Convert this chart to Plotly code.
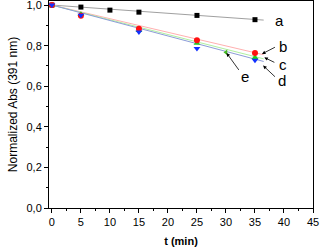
import plotly.graph_objects as go

# Data
t_a = [0, 5, 10, 15, 25, 35]
abs_a = [1.0, 0.99, 0.975, 0.965, 0.949, 0.928]

t_bcd = [0, 5, 15, 25, 35]
abs_b = [1.0, 0.947, 0.883, 0.826, 0.764]
abs_c = [1.0, 0.955, 0.875, 0.812, 0.742]
abs_d = [1.0, 0.950, 0.867, 0.786, 0.728]

t_e = [30]
abs_e = [0.767]

# Linear fits (endpoints)
t_fit = [0, 36.5]
fit_a = [1.0, 0.926]
fit_b = [1.0, 0.755]
fit_c = [1.0, 0.735]
fit_d = [1.0, 0.722]

labels = ["a", "b", "c", "d", "e"]
label_t = [39.3, 39.8, 39.8, 39.7, 33.3]
label_v = [0.924, 0.796, 0.706, 0.626, 0.648]

arrow_tail_t = [None, 38.7, 38.6, 38.7, 32.4]
arrow_tail_v = [None, 0.796, 0.714, 0.640, 0.673]
arrow_head_t = [None, 36.2, 36.6, 36.4, 30.1]
arrow_head_v = [None, 0.759, 0.742, 0.702, 0.764]

fig = go.Figure()

fit_colors = ["#a0a0a0", "#ffb0b0", "#b0f0a0", "#8c9cd8"]
for y, col in zip([fit_a, fit_b, fit_c, fit_d], fit_colors):
    fig.add_trace(go.Scatter(x=t_fit, y=y, mode="lines",
                             line=dict(color=col, width=1), showlegend=False))

fig.add_trace(go.Scatter(x=t_a, y=abs_a, mode="markers",
                         marker=dict(symbol="square", size=5, color="black"), showlegend=False))
fig.add_trace(go.Scatter(x=t_bcd, y=abs_c, mode="markers",
                         marker=dict(symbol="triangle-up", size=6, color="#22cc22"), showlegend=False))
fig.add_trace(go.Scatter(x=t_bcd, y=abs_b, mode="markers",
                         marker=dict(symbol="circle", size=6, color="#ff1010"), showlegend=False))
fig.add_trace(go.Scatter(x=t_bcd, y=abs_d, mode="markers",
                         marker=dict(symbol="triangle-down", size=6, color="#1030ff"), showlegend=False))
fig.add_trace(go.Scatter(x=t_e, y=abs_e, mode="markers",
                         marker=dict(symbol="triangle-left", size=5, color="#44bb22"), showlegend=False))

annotations = []
for i, lab in enumerate(labels):
    annotations.append(dict(x=label_t[i], y=label_v[i], xref="x", yref="y", text=lab,
                            showarrow=False, font=dict(family="Liberation Sans, Arial", size=15, color="black")))
    if arrow_tail_t[i] is not None:
        annotations.append(dict(x=arrow_head_t[i], y=arrow_head_v[i], xref="x", yref="y",
                                ax=arrow_tail_t[i], ay=arrow_tail_v[i], axref="x", ayref="y",
                                text="", showarrow=True, arrowhead=2, arrowsize=0.9,
                                arrowwidth=0.8, arrowcolor="black"))

axis_common = dict(showline=True, linecolor="black", linewidth=1, mirror=True,
                   ticks="outside", ticklen=4, tickwidth=1, tickcolor="black",
                   showgrid=False, zeroline=False, automargin=False,
                   ticklabeloverflow="allow",
                   tickfont=dict(family="Liberation Sans, Arial", size=11, color="black"))

fig.update_layout(
    width=320, height=250,
    margin=dict(l=49, r=7, t=1, b=42),
    paper_bgcolor="white", plot_bgcolor="white",
    separators=", ",
    xaxis=dict(range=[-0.5, 45], tick0=0, dtick=5,
               minor=dict(dtick=2.5, ticks="outside", ticklen=2, tickcolor="black"),
               title=dict(text="<b>t (min)</b>", standoff=10,
                          font=dict(family="Liberation Sans, Arial", size=11, color="black")),
               **axis_common),
    yaxis=dict(range=[0, 1.02], tick0=0, dtick=0.2, tickformat=".1f",
               minor=dict(dtick=0.1, ticks="outside", ticklen=2, tickcolor="black"),
               title=dict(text="Normalized Abs (391 nm)", standoff=6,
                          font=dict(family="Liberation Sans, Arial", size=12, color="black")),
               **axis_common),
    annotations=annotations,
)

fig.write_html("out.html", config={"displayModeBar": False},
               post_script="document.body.style.margin='0';document.body.style.padding='0';")
